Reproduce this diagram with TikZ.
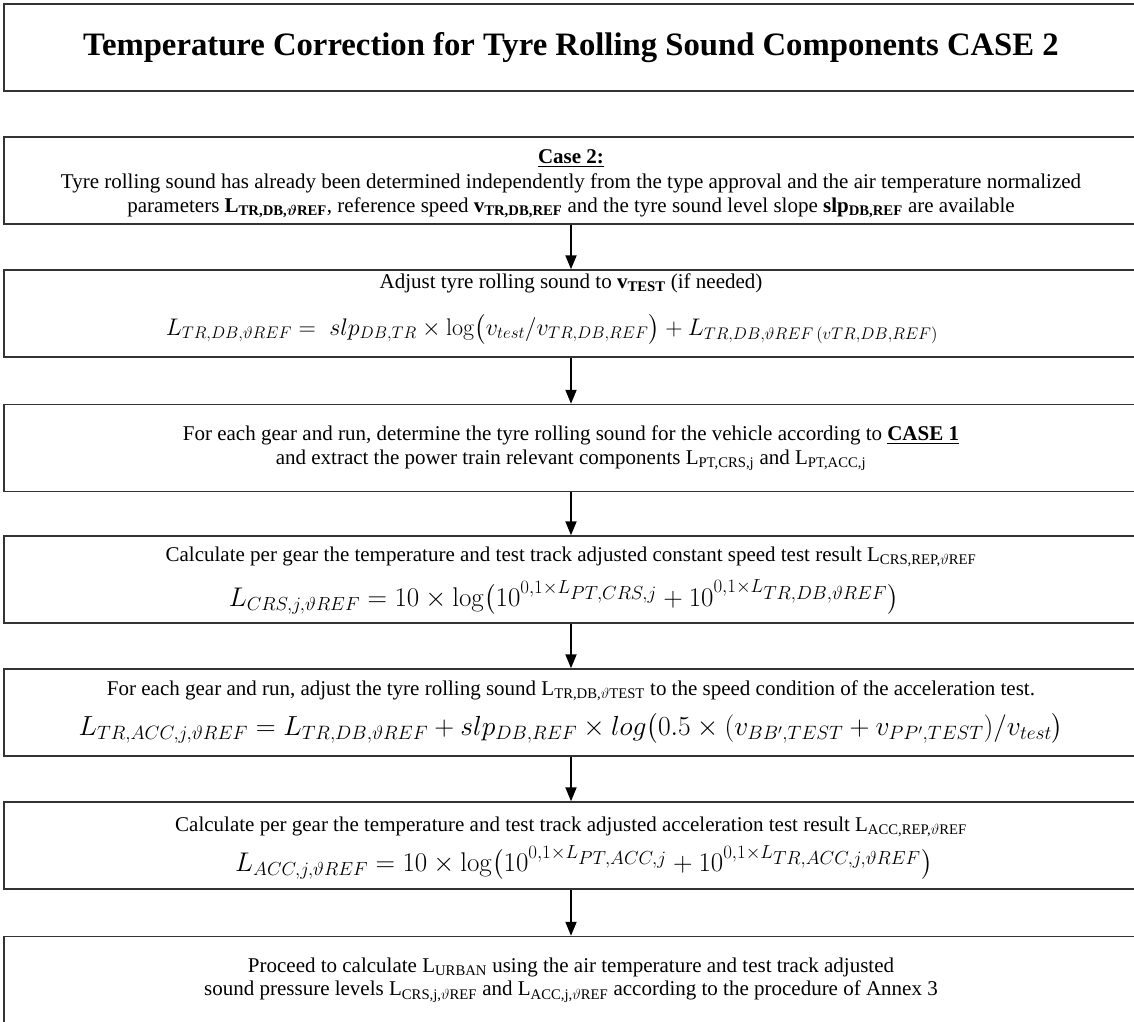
\RequirePackage{fix-cm}
\documentclass[tikz,border=0pt]{standalone}
\usepackage{amsmath}
\usepackage[no-math]{fontspec}
\setmainfont{Liberation Serif}
\usetikzlibrary{arrows.meta}

\tikzstyle{stepbox}=[draw=black!80, line width=1.5pt, minimum height=87pt, text width=1100pt, inner xsep=17pt, inner ysep=0pt, align=flush center, font=\fontsize{21}{23.5}\selectfont]
\tikzstyle{titlebox}=[stepbox, font=\fontsize{32.7}{36}\selectfont\bfseries]
\tikzstyle{flow} = [draw, line width=2pt, -{Triangle[length=14pt,width=11pt]}]

\begin{document}
\begin{tikzpicture}[x=1pt, y=-1pt]
	\useasboundingbox (0,0) rectangle (1134,1021);
	\node[titlebox] (title) at (571,47.5) {Temperature Correction for Tyre Rolling Sound Components CASE 2};
	\node[stepbox] (case) at (571,180.5) {\rule{0pt}{19.5pt}\textbf{\underline{Case 2:}}\\[2pt]
		Tyre rolling  sound has already been determined independently from the type approval and the air temperature normalized\\
		parameters \textbf{L\textsubscript{TR,DB,$\boldsymbol{\vartheta}$REF}}, reference speed \textbf{v\textsubscript{TR,DB,REF}} and the tyre sound level slope \textbf{slp\textsubscript{DB,REF}} are available};
	\node[stepbox] (adjust) at (571,313.5) {Adjust tyre rolling sound to \textbf{v\textsubscript{TEST}} (if needed)\\[20pt]
		{\fontsize{24}{28}\selectfont $L_{TR,DB,\vartheta REF} = \; slp_{DB,TR} \times \log\bigl(v_{test}/v_{TR,DB,REF}\bigr) + L_{TR,DB,\vartheta REF\,(vTR,DB,REF)}$}\rule[-18pt]{38pt}{0pt}};
	\node[stepbox] (split) at (571,448) {For each gear and run, determine the tyre rolling sound for the vehicle according to \textbf{\underline{CASE 1}}\\
		and extract the power train relevant components L\textsubscript{PT,CRS,j} and L\textsubscript{PT,ACC,j}};
	\node[stepbox] (crs) at (571,579.5) {\rule{0pt}{18pt}Calculate per gear the temperature and test track adjusted constant speed test result L\textsubscript{CRS,REP,$\vartheta$REF}\\[12pt]
		{\fontsize{27}{31}\selectfont $L_{CRS,j,\vartheta REF} = 10 \times \log\bigl(10^{0{,}1\times L_{\scriptstyle PT,CRS,j}} + 10^{0{,}1\times L_{\scriptstyle TR,DB,\vartheta REF}}\bigr)$}\rule{14pt}{0pt}};
	\node[stepbox] (tracc) at (571,712.5) {\rule{0pt}{16pt}For each gear and run, adjust the tyre rolling sound L\textsubscript{TR,DB,$\vartheta$TEST} to the speed condition of the acceleration test.\\[10pt]
		{\fontsize{27.6}{31}\selectfont $L_{TR,ACC,j,\vartheta REF} = L_{TR,DB,\vartheta REF} + slp_{DB,REF} \times log\bigl(0.5 \times (v_{BB',TEST} + v_{PP',TEST})/v_{test}\bigr)$}};
	\node[stepbox] (acc) at (571,845.5) {\rule{0pt}{21pt}Calculate per gear the temperature and test track adjusted acceleration test result L\textsubscript{ACC,REP,$\vartheta$REF}\\[8pt]
		\rule{26pt}{0pt}{\fontsize{27}{31}\selectfont $L_{ACC,j,\vartheta REF} = 10 \times \log\bigl(10^{0{,}1\times L_{\scriptstyle PT,ACC,j}} + 10^{0{,}1\times L_{\scriptstyle TR,ACC,j,\vartheta REF}}\bigr)$}};
	\node[stepbox] (urban) at (571,980) {Proceed to calculate L\textsubscript{URBAN} using the air temperature and test track adjusted\\
		sound pressure levels L\textsubscript{CRS,j,$\vartheta$REF} and L\textsubscript{ACC,j,$\vartheta$REF} according to the procedure of Annex 3};
	\foreach \source/\dest in {case/adjust, adjust/split, split/crs, crs/tracc, tracc/acc, acc/urban}
		\path[flow] (\source) -- (\dest);
\end{tikzpicture}
\end{document}
